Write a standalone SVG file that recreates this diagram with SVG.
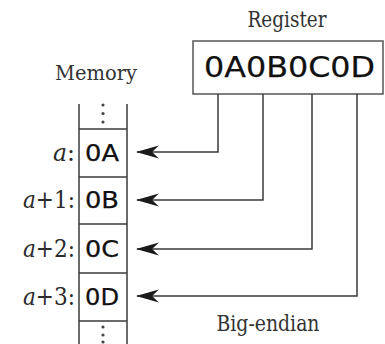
<svg xmlns="http://www.w3.org/2000/svg" width="385" height="344" viewBox="0 0 385 344">
<style>
.serif{font-family:"DejaVu Serif","Liberation Serif",serif;font-stretch:condensed;fill:#333}
.lbl{font-family:"DejaVu Serif","Liberation Serif",serif;font-stretch:condensed;fill:#2a2a2a;font-size:24px;text-anchor:end}
.sans{font-family:"DejaVu Sans","Liberation Sans",sans-serif;fill:#111;stroke:#111;stroke-width:0.25}
.ln{fill:none;stroke:#3a3a3a;stroke-width:1.5}
.box{fill:#fff;stroke:#555;stroke-width:1.5}
.dot{fill:#444}
</style>
<defs>
<marker id="ah" markerWidth="24" markerHeight="14" viewBox="0 0 24 14" refX="23" refY="7" orient="auto" markerUnits="userSpaceOnUse">
<path d="M24,7 L1,0.5 L8,7 L1,13.5 Z" fill="#1a1a1a"/>
</marker>
</defs>
<rect width="385" height="344" fill="#fff"/>
<text class="serif" x="287" y="27" font-size="22" text-anchor="middle" textLength="79" lengthAdjust="spacingAndGlyphs">Register</text>
<text class="serif" x="96" y="80" font-size="21" text-anchor="middle" textLength="82" lengthAdjust="spacingAndGlyphs">Memory</text>
<text class="serif" x="268" y="331" font-size="22" text-anchor="middle" textLength="103" lengthAdjust="spacingAndGlyphs">Big-endian</text>
<g id="register">
<rect class="box" x="193" y="41" width="190" height="53"/>
<text class="sans" x="289.5" y="77" font-size="29" text-anchor="middle" textLength="171" lengthAdjust="spacingAndGlyphs">0A0B0C0D</text>
</g>
<g id="memory">
<line class="ln" x1="79" y1="104" x2="79" y2="344"/>
<line class="ln" x1="127" y1="104" x2="127" y2="344"/>
<line class="ln" x1="79" y1="129" x2="127" y2="129" stroke-width="1.2"/>
<line class="ln" x1="79" y1="177" x2="127" y2="177" stroke-width="1.2"/>
<line class="ln" x1="79" y1="224" x2="127" y2="224" stroke-width="1.2"/>
<line class="ln" x1="79" y1="273" x2="127" y2="273" stroke-width="1.2"/>
<line class="ln" x1="79" y1="321" x2="127" y2="321" stroke-width="1.2"/>
<circle class="dot" cx="103" cy="105" r="1.6"/>
<circle class="dot" cx="103" cy="113.5" r="1.6"/>
<circle class="dot" cx="103" cy="122" r="1.6"/>
<circle class="dot" cx="103" cy="327" r="1.6"/>
<circle class="dot" cx="103" cy="335" r="1.6"/>
<circle class="dot" cx="103" cy="342" r="1.6"/>
</g>
<g id="cell-a">
<text class="lbl" x="75" y="161" textLength="22" lengthAdjust="spacingAndGlyphs"><tspan font-style="italic">a</tspan>:</text>
<text class="sans" x="85" y="161" font-size="22.5" textLength="34" lengthAdjust="spacingAndGlyphs">0A</text>
</g>
<g id="cell-a1">
<text class="lbl" x="75" y="208" textLength="52" lengthAdjust="spacingAndGlyphs"><tspan font-style="italic">a</tspan>+1:</text>
<text class="sans" x="85" y="208" font-size="22.5" textLength="34" lengthAdjust="spacingAndGlyphs">0B</text>
</g>
<g id="cell-a2">
<text class="lbl" x="75" y="257" textLength="52" lengthAdjust="spacingAndGlyphs"><tspan font-style="italic">a</tspan>+2:</text>
<text class="sans" x="85" y="257" font-size="22.5" textLength="34" lengthAdjust="spacingAndGlyphs">0C</text>
</g>
<g id="cell-a3">
<text class="lbl" x="75" y="305" textLength="52" lengthAdjust="spacingAndGlyphs"><tspan font-style="italic">a</tspan>+3:</text>
<text class="sans" x="85" y="305" font-size="22.5" textLength="34" lengthAdjust="spacingAndGlyphs">0D</text>
</g>
<g id="connectors">
<path class="ln" d="M218,94 V152 H137" marker-end="url(#ah)"/>
<path class="ln" d="M263,94 V200 H137" marker-end="url(#ah)"/>
<path class="ln" d="M312,94 V249 H137" marker-end="url(#ah)"/>
<path class="ln" d="M357,94 V296 H137" marker-end="url(#ah)"/>
</g>
</svg>
